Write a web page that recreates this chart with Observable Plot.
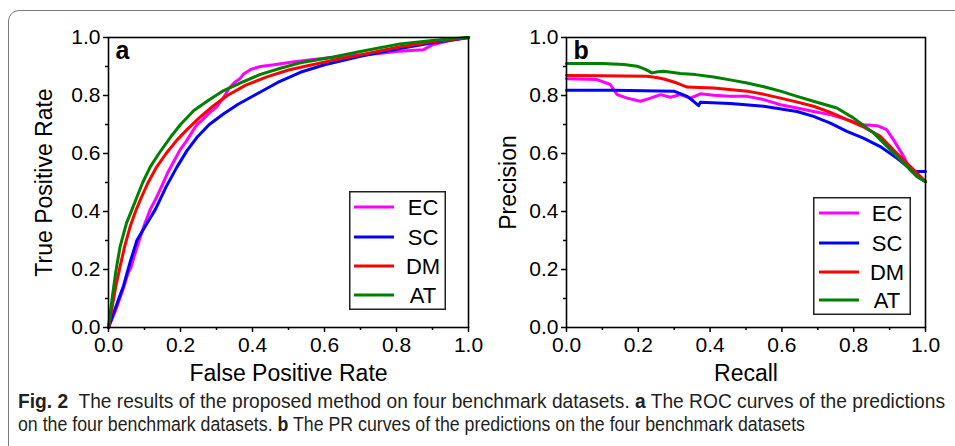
<!DOCTYPE html>
<html><head><meta charset="utf-8">
<script src="https://cdn.jsdelivr.net/npm/d3@7"></script>
<script src="https://cdn.jsdelivr.net/npm/@observablehq/plot@0.6"></script>
<style>
html,body{margin:0;padding:0;background:#fff;}
body{width:955px;height:446px;overflow:hidden;position:relative;}
#frame{position:absolute;left:8px;top:10px;width:980px;height:480px;border:1.5px solid #7a7a7a;border-radius:11px;box-sizing:border-box;}
.panel{position:absolute;top:0;}
.leg{position:absolute;}
.cap{position:absolute;left:18px;white-space:nowrap;font-family:"Liberation Sans",Arial,sans-serif;font-size:20px;line-height:22px;color:#231f20;transform-origin:0 0;}
.cap b{font-weight:700;}
</style></head><body>
<div id="frame"></div>
<div id="pa" class="panel" style="left:0px"></div>
<div id="pb" class="panel" style="left:480px"></div>
<div id="legA" class="leg" style="left:349px;top:191px"></div>
<div id="legB" class="leg" style="left:813px;top:197px"></div>
<div class="cap" id="cap1" style="top:390px"><b>Fig. 2</b>&nbsp; The results of the proposed method on four benchmark datasets. <b>a</b> The ROC curves of the predictions</div>
<div class="cap" id="cap2" style="top:413px">on the four benchmark datasets. <b>b</b> The PR curves of the predictions on the four benchmark datasets</div>
<script>
// ---- categories / styles ----
const seriesNames = ["EC", "SC", "DM", "AT"];
const seriesColors = ["#ff00ff", "#0000ff", "#ff0000", "#008000"];
const majorTicks = [0, 0.2, 0.4, 0.6, 0.8, 1.0];
const minorTicks = [0.1, 0.3, 0.5, 0.7, 0.9];

// ---- ROC curves (panel a) ----
const rocEC_fpr = [0,0.02,0.04,0.055,0.062,0.07,0.08,0.088,0.1,0.117,0.13,0.145,0.163,0.18,0.2,0.215,0.23,0.246,0.26,0.28,0.3,0.32,0.335,0.35,0.365,0.376,0.395,0.422,0.46,0.506,0.55,0.625,0.7,0.75,0.81,0.85,0.875,0.9,0.95,1];
const rocEC_tpr = [0,0.06,0.13,0.19,0.205,0.24,0.28,0.31,0.355,0.41,0.44,0.48,0.53,0.57,0.615,0.64,0.67,0.70,0.715,0.74,0.76,0.794,0.825,0.845,0.858,0.875,0.89,0.9,0.906,0.915,0.922,0.932,0.94,0.945,0.953,0.956,0.958,0.975,0.99,1];
const rocSC_fpr = [0,0.02,0.042,0.06,0.079,0.1,0.131,0.16,0.19,0.218,0.246,0.28,0.32,0.36,0.413,0.47,0.533,0.6,0.7,0.81,0.9,1];
const rocSC_tpr = [0,0.07,0.145,0.225,0.301,0.345,0.409,0.485,0.553,0.61,0.656,0.70,0.737,0.77,0.806,0.845,0.88,0.906,0.935,0.962,0.982,1];
const rocDM_fpr = [0,0.01,0.02,0.032,0.045,0.06,0.075,0.088,0.11,0.134,0.16,0.19,0.22,0.255,0.29,0.33,0.38,0.44,0.5,0.55,0.625,0.7,0.81,0.9,1];
const rocDM_tpr = [0,0.07,0.14,0.209,0.28,0.347,0.40,0.439,0.50,0.554,0.60,0.646,0.685,0.726,0.763,0.80,0.835,0.864,0.888,0.902,0.922,0.94,0.968,0.985,1];
const rocAT_fpr = [0,0.01,0.02,0.032,0.05,0.066,0.079,0.095,0.116,0.14,0.172,0.2,0.237,0.28,0.32,0.37,0.422,0.48,0.533,0.625,0.7,0.81,0.9,1];
const rocAT_tpr = [0,0.1,0.19,0.278,0.36,0.409,0.45,0.50,0.554,0.60,0.656,0.70,0.748,0.785,0.817,0.845,0.873,0.895,0.913,0.933,0.952,0.978,0.99,1];

// ---- PR curves (panel b) ----
const prEC_rec = [0,0.085,0.122,0.141,0.169,0.206,0.234,0.262,0.289,0.317,0.345,0.373,0.41,0.456,0.503,0.549,0.596,0.642,0.688,0.735,0.781,0.827,0.865,0.892,0.911,0.939,0.957,0.976,1];
const prEC_pre = [0.858,0.855,0.838,0.803,0.791,0.78,0.791,0.803,0.794,0.803,0.791,0.806,0.801,0.797,0.797,0.786,0.768,0.757,0.745,0.734,0.717,0.699,0.696,0.682,0.647,0.59,0.544,0.521,0.503];
const prSC_rec = [0,0.132,0.299,0.336,0.354,0.368,0.373,0.456,0.549,0.642,0.688,0.735,0.781,0.827,0.874,0.92,0.967,1];
const prSC_pre = [0.818,0.818,0.815,0.797,0.78,0.765,0.777,0.772,0.763,0.745,0.728,0.705,0.676,0.653,0.624,0.584,0.538,0.538];
const prDM_rec = [0,0.1,0.224,0.25,0.271,0.308,0.336,0.37,0.41,0.46,0.503,0.55,0.596,0.64,0.688,0.735,0.781,0.83,0.874,0.92,0.967,1];
const prDM_pre = [0.869,0.868,0.866,0.862,0.857,0.843,0.829,0.828,0.826,0.82,0.815,0.804,0.791,0.778,0.763,0.742,0.717,0.69,0.659,0.601,0.544,0.503];
const prAT_rec = [0,0.1,0.16,0.197,0.22,0.238,0.255,0.271,0.317,0.36,0.41,0.46,0.503,0.55,0.596,0.64,0.688,0.753,0.8,0.855,0.902,0.948,0.976,1];
const prAT_pre = [0.91,0.91,0.907,0.901,0.89,0.878,0.882,0.884,0.876,0.872,0.864,0.853,0.843,0.83,0.815,0.798,0.78,0.757,0.722,0.671,0.613,0.555,0.521,0.503];

function rows(name, xs, ys) { return xs.map((x, i) => ({series: name, x, y: ys[i]})); }
const rocData = [
  ...rows("EC", rocEC_fpr, rocEC_tpr), ...rows("SC", rocSC_fpr, rocSC_tpr),
  ...rows("DM", rocDM_fpr, rocDM_tpr), ...rows("AT", rocAT_fpr, rocAT_tpr)];
const prData = [
  ...rows("EC", prEC_rec, prEC_pre), ...rows("SC", prSC_rec, prSC_pre),
  ...rows("DM", prDM_rec, prDM_pre), ...rows("AT", prAT_rec, prAT_pre)];

const FONT = "'Liberation Sans', Arial, sans-serif";
const fmt = d3.format(".1f");

function panel({data, width, marginLeft, marginRight, xLabel, yLabel, letter, yTitleShift}) {
  return Plot.plot({
    width, height: 400, marginLeft, marginRight, marginTop: 37, marginBottom: 73,
    style: {fontFamily: FONT, fontSize: "21px", color: "#000", background: "transparent", overflow: "visible"},
    x: {domain: [0, 1]},
    y: {domain: [0, 1]},
    color: {domain: seriesNames, range: seriesColors},
    marks: [
      Plot.line(data, {x: "x", y: "y", z: "series", stroke: "series", strokeWidth: 3, strokeLinejoin: "round", strokeLinecap: "round"}),
      Plot.frame({stroke: "#000", strokeWidth: 1.6}),
      Plot.axisX({ticks: majorTicks, tickSize: 5, tickPadding: 5, tickFormat: fmt, strokeWidth: 1.5, label: null, fontSize: 21}),
      Plot.axisX({ticks: minorTicks, tickSize: 3, tickFormat: () => "", strokeWidth: 1.5, label: null}),
      Plot.axisY({ticks: majorTicks, tickSize: 5, tickPadding: 3, tickFormat: fmt, strokeWidth: 1.5, label: null, fontSize: 21}),
      Plot.axisY({ticks: minorTicks, tickSize: 3, tickFormat: () => "", strokeWidth: 1.5, label: null}),
      Plot.text([xLabel], {text: d => d, frameAnchor: "bottom", dy: 53, fontSize: 23}),
      Plot.text([yLabel], {text: d => d, frameAnchor: "left", textAnchor: "middle", lineAnchor: "middle", rotate: -90, dx: yTitleShift, fontSize: 23}),
      Plot.text([letter], {text: d => d, frameAnchor: "top-left", dx: 7, dy: 4, textAnchor: "start", lineAnchor: "top", fontWeight: "bold", fontSize: 25})
    ]
  });
}

document.getElementById("pa").appendChild(panel({
  data: rocData, width: 480, marginLeft: 108, marginRight: 12,
  xLabel: "False Positive Rate", yLabel: "True Positive Rate", letter: "a", yTitleShift: -64}));
document.getElementById("pb").appendChild(panel({
  data: prData, width: 475, marginLeft: 86, marginRight: 30,
  xLabel: "Recall", yLabel: "Precision", letter: "b", yTitleShift: -58}));

// legends
function legend(el, w, h, rowYs, lineX1, lineX2, textX) {
  const svg = d3.create("svg").attr("width", w).attr("height", h).style("display", "block");
  svg.append("rect").attr("x", 0.75).attr("y", 0.75).attr("width", w - 1.5).attr("height", h - 1.5)
    .attr("fill", "#fff").attr("stroke", "#222").attr("stroke-width", 1.5);
  seriesNames.forEach((name, i) => {
    svg.append("line").attr("x1", lineX1).attr("x2", lineX2).attr("y1", rowYs[i]).attr("y2", rowYs[i])
      .attr("stroke", seriesColors[i]).attr("stroke-width", 3);
    svg.append("text").attr("x", textX).attr("y", rowYs[i]).attr("dy", "0.36em")
      .attr("text-anchor", "middle").attr("font-family", FONT).attr("font-size", 22).attr("fill", "#000").text(name);
  });
  el.appendChild(svg.node());
}
legend(document.getElementById("legA"), 97, 119, [16, 46, 75, 104], 5, 45, 74);
legend(document.getElementById("legB"), 98, 118, [16, 46, 75, 103], 6, 46, 74);

// fit caption lines to their widths (condensed caption typeface)
function fit(id, target) {
  const el = document.getElementById(id);
  const w = el.getBoundingClientRect().width;
  el.style.transform = `scaleX(${target / w})`;
}
fit("cap1", 927);
fit("cap2", 787);
</script>
</body></html>
